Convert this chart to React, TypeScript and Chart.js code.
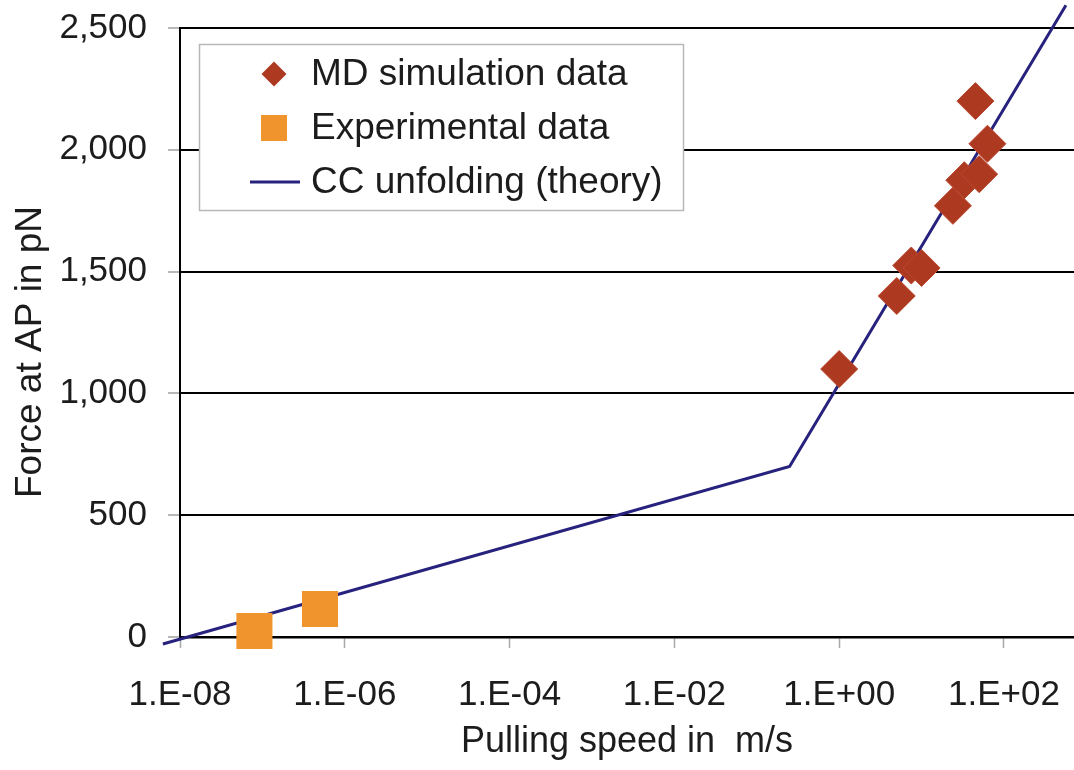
import React, { useEffect, useRef } from 'react';
import { Chart, registerables } from 'chart.js';

Chart.register(...registerables);

// ---- data ----
const mdSpeed = [1, 5, 7.5, 10, 24, 33, 50, 45, 63];
const mdForce = [1100, 1400, 1525, 1515, 1770, 1875, 1900, 2200, 2025];
const expSpeed = [8e-8, 5e-7];
const expForce = [25, 115];
const theorySpeed = [6.2e-9, 0.25, 565];
const theoryForce = [-29, 700, 2593];
const xTickValues = [1e-8, 1e-6, 1e-4, 1e-2, 1, 100];
const yTickValues = [0, 500, 1000, 1500, 2000, 2500];
const seriesNames = ['MD simulation data', 'Experimental data', 'CC unfolding (theory)'];
const xTitle = 'Pulling speed in  m/s';
const yTitle = 'Force at AP in pN';
const xRange = [1e-8, 708];
const yRange = [0, 2500];

const FONT = '"Liberation Sans", Arial, Helvetica, sans-serif';
const MD_COLOR = '#AD3921';
const EXP_COLOR = '#F0952E';
const LINE_COLOR = '#27227D';
const TEXT_COLOR = '#1c1c1c';

function fmtExp(v: number): string {
  const e = Math.round(Math.log10(v));
  const s = e < 0 ? '-' : '+';
  return `1.E${s}${String(Math.abs(e)).padStart(2, '0')}`;
}

function zeroPadding(s: any) {
  s.paddingLeft = 0;
  s.paddingRight = 0;
  s.paddingTop = 0;
  s.paddingBottom = 0;
}

const legendPlugin = {
  id: 'insideLegend',
  afterDraw(chart: any) {
    const ctx = chart.ctx as CanvasRenderingContext2D;
    ctx.save();
    // y-axis title (placed as in the reference, slightly below centre)
    ctx.save();
    ctx.translate(31, 352);
    ctx.rotate(-Math.PI / 2);
    ctx.fillStyle = TEXT_COLOR;
    ctx.font = `37px ${FONT}`;
    ctx.textAlign = 'center';
    ctx.textBaseline = 'middle';
    ctx.fillText(yTitle, 0, 0);
    ctx.restore();

    const bx = 199, by = 44, bw = 484, bh = 166;
    ctx.fillStyle = '#ffffff';
    ctx.fillRect(bx, by, bw, bh);
    ctx.strokeStyle = '#b8b8b8';
    ctx.lineWidth = 1.5;
    ctx.strokeRect(bx + 0.5, by + 0.5, bw, bh);

    const mx = 274;
    const rows = [74, 128, 182];
    // diamond
    ctx.fillStyle = MD_COLOR;
    ctx.beginPath();
    const r = 12.5;
    ctx.moveTo(mx, rows[0] - r);
    ctx.lineTo(mx + r, rows[0]);
    ctx.lineTo(mx, rows[0] + r);
    ctx.lineTo(mx - r, rows[0]);
    ctx.closePath();
    ctx.fill();
    // square
    ctx.fillStyle = EXP_COLOR;
    ctx.fillRect(mx - 13, rows[1] - 13, 26, 26);
    // line
    ctx.strokeStyle = LINE_COLOR;
    ctx.lineWidth = 3;
    ctx.beginPath();
    ctx.moveTo(250, rows[2]);
    ctx.lineTo(300, rows[2]);
    ctx.stroke();

    ctx.fillStyle = TEXT_COLOR;
    ctx.font = `37px ${FONT}`;
    ctx.textBaseline = 'middle';
    ctx.textAlign = 'left';
    seriesNames.forEach((name, i) => {
      ctx.fillText(name, 311, rows[i] + 1);
    });
    ctx.restore();
  },
};

export default function App() {
  const canvasRef = useRef<HTMLCanvasElement | null>(null);

  useEffect(() => {
    if (!canvasRef.current) return;
    const chart = new Chart(canvasRef.current, {
      type: 'scatter',
      data: {
        datasets: [
          {
            type: 'line',
            label: seriesNames[2],
            data: theorySpeed.map((x, i) => ({ x, y: theoryForce[i] })),
            borderColor: LINE_COLOR,
            borderWidth: 3,
            pointRadius: 0,
            fill: false,
            tension: 0,
            clip: false,
            order: 3,
          } as any,
          {
            label: seriesNames[0],
            data: mdSpeed.map((x, i) => ({ x, y: mdForce[i] })),
            pointStyle: 'rectRot',
            pointRadius: 18.5,
            pointHoverRadius: 18.5,
            backgroundColor: MD_COLOR,
            borderColor: '#B9472E',
            borderWidth: 1,
            clip: false,
            order: 2,
          } as any,
          {
            label: seriesNames[1],
            data: expSpeed.map((x, i) => ({ x, y: expForce[i] })),
            pointStyle: 'rect',
            pointRadius: 25.5,
            pointHoverRadius: 25.5,
            backgroundColor: EXP_COLOR,
            borderWidth: 0,
            clip: false,
            order: 1,
          } as any,
        ],
      },
      options: {
        animation: false,
        responsive: false,
        maintainAspectRatio: false,
        layout: { autoPadding: false, padding: { top: 28, right: 0, left: 0, bottom: 0 } },
        plugins: {
          legend: { display: false },
          tooltip: { enabled: false },
        },
        scales: {
          x: {
            type: 'logarithmic',
            min: xRange[0],
            max: xRange[1],
            afterBuildTicks: (s: any) => {
              s.ticks = xTickValues.map((v) => ({ value: v }));
            },
            afterFit: (s: any) => {
              s.height = 133;
              zeroPadding(s);
            },
            grid: {
              drawOnChartArea: false,
              drawTicks: true,
              tickLength: 11,
              tickColor: '#a8a8a8',
              tickWidth: 1.5,
            },
            border: { display: true, color: '#000', width: 2.5 },
            ticks: {
              autoSkip: false,
              maxRotation: 0,
              minRotation: 0,
              padding: 26,
              color: TEXT_COLOR,
              font: { family: FONT, size: 35 },
              callback: (v: any) => fmtExp(Number(v)),
            },
            title: {
              display: true,
              text: xTitle,
              color: TEXT_COLOR,
              font: { family: FONT, size: 36 },
              padding: { top: 0, bottom: 6 },
            },
          },
          y: {
            type: 'linear',
            min: yRange[0],
            max: yRange[1],
            afterBuildTicks: (s: any) => {
              s.ticks = yTickValues.map((v) => ({ value: v }));
            },
            afterFit: (s: any) => {
              s.width = 180;
              zeroPadding(s);
            },
            grid: {
              color: '#000',
              lineWidth: 2,
              drawTicks: true,
              tickLength: 12,
              tickColor: '#a0a0a0',
              tickWidth: 1.5,
            },
            border: { display: true, color: '#000', width: 2 },
            ticks: {
              padding: 21,
              color: TEXT_COLOR,
              font: { family: FONT, size: 35 },
              callback: (v: any) => Number(v).toLocaleString('en-US'),
            },
            title: { display: false },
          },
        },
      },
      plugins: [legendPlugin],
    });
    return () => chart.destroy();
  }, []);

  return (
    <div style={{ position: 'absolute', left: 0, top: 0, width: 1074, height: 770, background: '#fff' }}>
      <canvas ref={canvasRef} width={1074} height={770} />
    </div>
  );
}
